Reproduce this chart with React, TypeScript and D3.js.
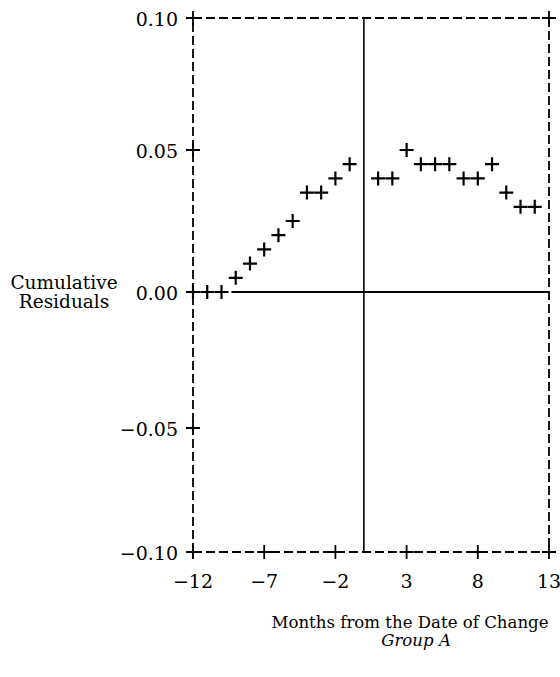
import React, { useEffect, useRef } from "react";
import * as d3 from "d3";

// months relative to the change, and cumulative residuals
const months = [-12, -11, -10, -9, -8, -7, -6, -5, -4, -3, -2, -1, 1, 2, 3, 4, 5, 6, 7, 8, 9, 10, 11, 12];
const residuals = [0, 0, 0, 0.005, 0.01, 0.015, 0.02, 0.025, 0.035, 0.035, 0.04, 0.045, 0.04, 0.04, 0.05, 0.045, 0.045, 0.045, 0.04, 0.04, 0.045, 0.035, 0.03, 0.03];
const xTicks = [-12, -7, -2, 3, 8, 13];
const yTicks = [0.1, 0.05, 0, -0.05, -0.1];
const yTickLabels = ["0.10", "0.05", "0.00", "\u22120.05", "\u22120.10"];

const W = 560;
const H = 677;
const FONT = "'DejaVu Serif', 'Liberation Serif', serif";

const App = () => {
	const svgRef = useRef<SVGSVGElement>(null);

	useEffect(() => {
		const svg = d3.select(svgRef.current);
		svg.selectAll("*").remove();

		const x = d3.scaleLinear().domain([-12, 13]).range([193, 549]);
		// the scanned axis is a little uneven, so follow its tick positions
		const y = d3.scaleLinear().domain([-0.1, -0.05, 0, 0.05, 0.1]).range([552, 428, 292, 150, 18]);

		const [x0, x1] = x.range();
		const y0 = y(-0.1);
		const y1 = y(0.1);
		const g = svg.append("g").attr("stroke", "#000").attr("fill", "none");

		// dashed frame
		const frame = [
			[x0, y0, x0, y1],
			[x0, y1, x1, y1],
			[x1, y1, x1, y0],
			[x0, y0, x1, y0],
		];
		frame.forEach(([a, b, c, d]) => {
			g.append("line")
				.attr("x1", a).attr("y1", b).attr("x2", c).attr("y2", d)
				.attr("stroke-width", 1.8)
				.attr("stroke-dasharray", "9,4");
		});

		// solid reference lines at month 0 and residual 0
		g.append("line")
			.attr("x1", x(0)).attr("x2", x(0)).attr("y1", y1).attr("y2", y0)
			.attr("stroke-width", 1.6);
		g.append("line")
			.attr("x1", x(-9.3)).attr("x2", x1).attr("y1", y(0)).attr("y2", y(0))
			.attr("stroke-width", 2.2);

		const cross = (cx: number, cy: number, s: number, w: number) => {
			g.append("path")
				.attr("d", `M${cx - s},${cy}H${cx + s}M${cx},${cy - s}V${cy + s}`)
				.attr("stroke-width", w);
		};

		// tick crosses on left and bottom axis, plus the corners
		yTicks.forEach((t) => cross(x0, y(t), 7, 1.8));
		xTicks.forEach((t) => cross(x(t), y0, 7, 1.8));
		cross(x1, y1, 7, 1.8);

		// data points as plus signs
		months.forEach((m, i) => cross(x(m), y(residuals[i]), 7, 2.2));

		const t = svg.append("g").attr("font-family", FONT).attr("fill", "#000");

		yTicks.forEach((v, i) => {
			t.append("text")
				.attr("x", x0 - 15)
				.attr("y", y(v) + 8)
				.attr("font-size", 19)
				.attr("text-anchor", "end")
				.text(yTickLabels[i]);
		});

		xTicks.forEach((v) => {
			t.append("text")
				.attr("x", x(v))
				.attr("y", y0 + 36)
				.attr("font-size", 19)
				.attr("text-anchor", "middle")
				.text(v < 0 ? `\u2212${Math.abs(v)}` : `${v}`);
		});

		t.append("text").attr("x", 64).attr("y", 289).attr("font-size", 18.5).attr("text-anchor", "middle").text("Cumulative");
		t.append("text").attr("x", 64).attr("y", 308).attr("font-size", 18.5).attr("text-anchor", "middle").text("Residuals");

		t.append("text").attr("x", 410).attr("y", 628).attr("font-size", 16.6).attr("text-anchor", "middle").text("Months from the Date of Change");
		t.append("text").attr("x", 416).attr("y", 646).attr("font-size", 16.6).attr("text-anchor", "middle")
			.attr("font-style", "italic").text("Group A");
	}, []);

	return (
		<svg ref={svgRef} width={W} height={H} style={{ position: "absolute", left: 0, top: 0, background: "#fff" }}></svg>
	);
};

export default App;
